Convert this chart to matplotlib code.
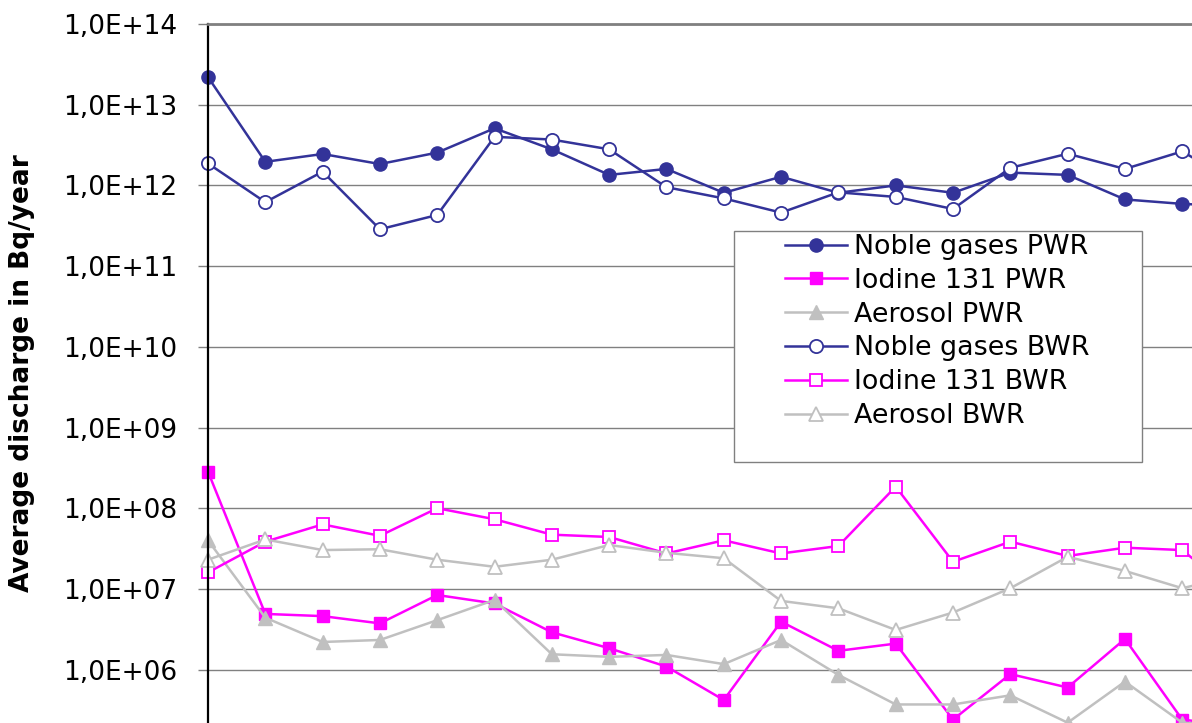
import numpy as np
import matplotlib
matplotlib.use("Agg")
import matplotlib.pyplot as plt
from matplotlib.patches import Rectangle
from matplotlib.ticker import FixedLocator, NullLocator

# values (Bq/year); the last entry is the point just past the right edge
noble_pwr = [2.2e13, 1.96e12, 2.45e12, 1.84e12, 2.55e12, 5.1e12, 2.8e12, 1.35e12, 1.6e12,
             8.1e11, 1.28e12, 8.1e11, 1.0e12, 8.1e11, 1.44e12, 1.35e12, 6.7e11, 5.9e11, 5.5e11]
iodine_pwr = [2.84e8, 4.9e6, 4.6e6, 3.74e6, 8.4e6, 6.6e6, 2.9e6, 1.84e6, 1.09e6,
              4.2e5, 3.93e6, 1.71e6, 2.1e6, 2.4e5, 8.8e5, 6.0e5, 2.4e6, 2.4e5, 2.0e5]
aerosol_pwr = [4.0e7, 4.4e6, 2.2e6, 2.33e6, 4.1e6, 7.3e6, 1.55e6, 1.44e6, 1.52e6,
               1.17e6, 2.33e6, 8.6e5, 3.7e5, 3.7e5, 4.8e5, 2.2e5, 7.1e5, 2.2e5, 2.0e5]
noble_bwr = [1.87e12, 6.2e11, 1.48e12, 2.86e11, 4.3e11, 4.0e12, 3.7e12, 2.8e12, 9.5e11,
             6.9e11, 4.6e11, 8.2e11, 7.2e11, 5.1e11, 1.65e12, 2.47e12, 1.6e12, 2.64e12, 1.0e12]
iodine_bwr = [1.6e7, 3.85e7, 6.3e7, 4.55e7, 1.0e8, 7.3e7, 4.7e7, 4.4e7, 2.75e7,
              4.0e7, 2.75e7, 3.4e7, 1.85e8, 2.17e7, 3.85e7, 2.56e7, 3.24e7, 3.03e7, 8.0e6]
aerosol_bwr = [2.3e7, 4.1e7, 3.03e7, 3.1e7, 2.3e7, 1.88e7, 2.3e7, 3.5e7, 2.8e7,
               2.4e7, 7.1e6, 5.75e6, 3.1e6, 5.1e6, 1.02e7, 2.5e7, 1.67e7, 1.02e7, 1.5e7]
x = np.arange(len(noble_pwr))

ytick_vals = [1e6, 1e7, 1e8, 1e9, 1e10, 1e11, 1e12, 1e13, 1e14]
ytick_labels = ["1,0E+06", "1,0E+07", "1,0E+08", "1,0E+09", "1,0E+10",
                "1,0E+11", "1,0E+12", "1,0E+13", "1,0E+14"]

navy = "#333399"
pink = "#FF00FF"
grey = "#C0C0C0"

plt.rcParams['font.family'] = ['DejaVu Sans']

fig = plt.figure(figsize=(11.92, 7.23), dpi=100)
ax = fig.add_axes([208/1192, 0, 1 - 208/1192, 1 - 24/723])

lw = 1.8
ax.plot(x, noble_pwr, color=navy, lw=lw, marker="o", ms=9.5, mfc=navy, mec=navy,
        clip_on=False, label="Noble gases PWR")
ax.plot(x, iodine_pwr, color=pink, lw=lw, marker="s", ms=8.5, mfc=pink, mec=pink,
        clip_on=False, label="Iodine 131 PWR")
ax.plot(x, aerosol_pwr, color=grey, lw=lw, marker="^", ms=10, mfc=grey, mec=grey,
        clip_on=False, label="Aerosol PWR")
ax.plot(x, noble_bwr, color=navy, lw=lw, marker="o", ms=9.5, mfc="white", mec=navy,
        mew=1.3, clip_on=False, label="Noble gases BWR")
ax.plot(x, iodine_bwr, color=pink, lw=lw, marker="s", ms=8.5, mfc="white", mec=pink,
        mew=1.3, clip_on=False, label="Iodine 131 BWR")
ax.plot(x, aerosol_bwr, color=grey, lw=lw, marker="^", ms=10, mfc="white", mec=grey,
        mew=1.3, clip_on=False, label="Aerosol BWR")

ax.set_yscale("log")
ax.set_ylim(2.18e5, 1e14)
ax.set_xlim(0, 17.17)
ax.yaxis.set_major_locator(FixedLocator(ytick_vals))
ax.yaxis.set_minor_locator(NullLocator())
ax.set_yticklabels(ytick_labels, fontsize=19)
ax.set_xticks([])
ax.tick_params(axis="y", length=7, width=1, color="#808080", pad=15)

ax.grid(axis="y", color="#808080", lw=1.0)
ax.set_axisbelow(True)
for s in ["right", "bottom"]:
    ax.spines[s].set_visible(False)
ax.spines["top"].set_color("#808080")
ax.spines["top"].set_linewidth(2)
ax.spines["left"].set_color("black")
ax.spines["left"].set_linewidth(1.6)

ax.set_ylabel("Average discharge in Bq/year", fontsize=19, fontweight="bold")
ax.yaxis.set_label_coords(-0.176, 0.5)

# legend box: wide left padding, so frame drawn separately
box = Rectangle((734/1192, 1 - 462/723), 408/1192, 231/723, transform=fig.transFigure,
                facecolor="white", edgecolor="#808080", lw=1, zorder=4.5, clip_on=False)
ax.add_patch(box)
leg = ax.legend(loc="upper left", bbox_to_anchor=(785/1192, 1 - 234/723),
                bbox_transform=fig.transFigure, frameon=False, fontsize=19.4,
                borderpad=0, borderaxespad=0, labelspacing=0.29,
                handlelength=2.3, handletextpad=0.26)
leg.set_zorder(5)

fig.savefig("out.png", dpi=100)
